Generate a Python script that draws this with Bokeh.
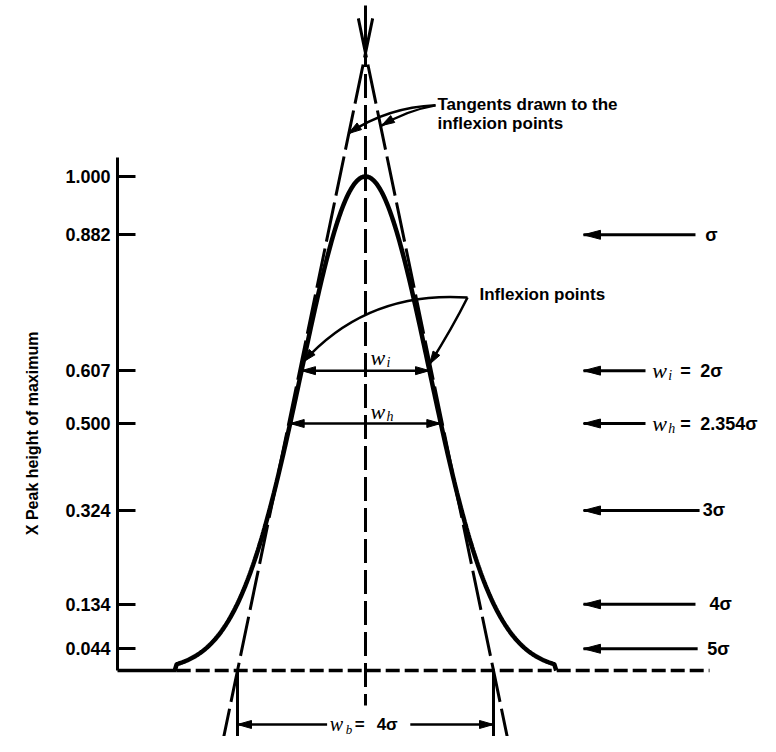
import numpy as np
from bokeh.plotting import figure
from bokeh.models import Range1d, FixedTicker, Label, LinearAxis
from bokeh.core.properties import value
from bokeh.embed import file_html
from bokeh.resources import INLINE

# ---------------- data ----------------
tick_heights = [1.000, 0.882, 0.607, 0.500, 0.324, 0.134, 0.044]
tick_labels = ["1.000", "0.882", "0.607", "0.500", "0.324", "0.134", "0.044"]
width_heights = [0.882, 0.607, 0.500, 0.324, 0.134, 0.044]
width_in_sigma = [1.0, 2.0, 2.354, 3.0, 4.0, 5.0]
width_sub = ["", "i", "h", "", "", ""]
width_text = ["σ", "2σ", "2.354σ", "3σ", "4σ", "5σ"]
inflexion_h = 0.607
half_h = 0.500
wi_sigma = 2.0
wh_sigma = 2.354
wb_sigma = 4.0
wb_text = "4σ"
tangent_apex_h = 1.25
foot_sigma = 2.95
axis_title = "X Peak height of maximum"
tangent_note = ["Tangents drawn to the", "inflexion points"]
inflexion_note = "Inflexion points"

# ---------------- layout ----------------
W, H = 760, 736
PX_SIGMA = 64.0
PX_UNIT = 494.0
BASE_PX = 670.0      # canvas y of the baseline
CENTER_PX = 365.0    # canvas x of the peak centre
X0 = -CENTER_PX / PX_SIGMA
X1 = X0 + W / PX_SIGMA
Y1 = BASE_PX / PX_UNIT
Y0 = Y1 - H / PX_UNIT
AXIS_X = -3.875

SANS = "Liberation Sans"
FONT = value(SANS)
SERIF = value("Liberation Serif")

p = figure(width=W, height=H, output_backend="svg", toolbar_location=None,
           x_range=Range1d(X0, X1), y_range=Range1d(Y0, Y1),
           x_axis_location=None, y_axis_location=None,
           min_border_left=0, min_border_right=0, min_border_top=0,
           min_border_bottom=0)
p.grid.visible = False
p.outline_line_color = None
p.background_fill_color = "white"

ax = LinearAxis(fixed_location=AXIS_X)
ax.ticker = FixedTicker(ticks=tick_heights)
ax.major_label_overrides = {h: t for h, t in zip(tick_heights, tick_labels)}
ax.bounds = (0, 1.038)
ax.axis_line_width = 3
ax.axis_line_color = "black"
ax.major_tick_in = 18
ax.major_tick_out = 0
ax.major_tick_line_width = 3
ax.minor_tick_line_color = None
ax.major_label_standoff = 7
ax.major_label_text_font = SANS
ax.major_label_text_font_style = "bold"
ax.major_label_text_font_size = "18px"
ax.major_label_text_color = "black"
p.add_layout(ax, "left")

p.add_layout(Label(x=-5.203, y=0.48, text=axis_title, angle=np.pi / 2,
                   text_align="center", text_baseline="middle",
                   text_font=SANS, text_font_style="bold",
                   text_font_size="16px", text_color="black"))

# ---------------- gaussian peak ----------------
xs = np.linspace(-foot_sigma, foot_sigma, 401)
ys = np.exp(-xs ** 2 / 2.0)
xs = np.concatenate([[-foot_sigma - 0.03], xs, [foot_sigma + 0.03]])
ys = np.concatenate([[0.0], ys, [0.0]])
p.line(xs, ys, line_color="black", line_width=4.5)

# baseline
p.line([AXIS_X, -foot_sigma], [0, 0], line_color="black", line_width=3.5)
p.line([-foot_sigma, 5.375], [0, 0], line_color="black", line_width=3.5,
       line_dash="14 5")

# centre line
p.line([0, 0], [1.346, 1.27], line_color="black", line_width=3)
p.line([0, 0], [1.27, -0.071], line_color="black", line_width=3,
       line_dash="24 7")

# tangents
base_x = wb_sigma / 2.0
th = np.array([1.32, -0.15])
for s in (-1, 1):
    tx = s * base_x * (1 - th / tangent_apex_h)
    p.line(tx, th, line_color="black", line_width=3, line_dash="40 7")

# ---------------- arrows ----------------
XS = PX_SIGMA
YS = PX_UNIT
head_xs, head_ys = [], []


def head(tx, ty, ux, uy, L=14.0, Wd=4.0):
    n = np.hypot(ux, uy)
    ux, uy = ux / n, uy / n
    bx, by = -ux * L, -uy * L
    nx, ny = -uy, ux
    pxs = [0.0, bx + nx * Wd, bx - nx * Wd]
    pys = [0.0, by + ny * Wd, by - ny * Wd]
    head_xs.append([tx + a / XS for a in pxs])
    head_ys.append([ty + b / YS for b in pys])


def harrow(xa, xb, y, L=14.0, Wd=4.0, lw=2.5):
    p.line([xa, xb], [y, y], line_color="black", line_width=lw)
    head(xa, y, -1 if xa < xb else 1, 0, L, Wd)
    head(xb, y, 1 if xb > xa else -1, 0, L, Wd)


def wtext(x, y, sub, rest=None, xo=0, yo=0, wsz="22px", ssz="14px",
          rsz="18px", eq_dx=28, val_dx=48):
    p.text([x], [y], text=["w"], text_font=SERIF, text_font_style="italic",
           text_font_size=wsz, text_align="left", text_baseline="middle",
           x_offset=xo, y_offset=yo, text_color="black")
    p.text([x], [y], text=[sub], text_font=SERIF, text_font_style="italic",
           text_font_size=ssz, text_align="left", text_baseline="middle",
           x_offset=xo + 16, y_offset=yo + 5, text_color="black")
    if rest:
        p.text([x], [y], text=["="], text_font=FONT, text_font_style="bold",
               text_font_size=rsz, text_align="left", text_baseline="middle",
               x_offset=xo + eq_dx, y_offset=yo, text_color="black")
        p.text([x], [y], text=[rest], text_font=FONT, text_font_style="bold",
               text_font_size=rsz, text_align="left", text_baseline="middle",
               x_offset=xo + val_dx, y_offset=yo, text_color="black")


# w_i and w_h double arrows
harrow(-wi_sigma / 2, wi_sigma / 2, inflexion_h)
harrow(-wh_sigma / 2, wh_sigma / 2, half_h)
wtext(0.078, inflexion_h, "i", yo=-13)
wtext(0.078, half_h, "h", yo=-12)

# w_b
wb_y = -0.1093
p.line([-base_x, -base_x], [0, -0.15], line_color="black", line_width=3)
p.line([base_x, base_x], [0, -0.15], line_color="black", line_width=3)
p.line([-base_x, -0.6], [wb_y, wb_y], line_color="black", line_width=2.5)
p.line([0.7, base_x], [wb_y, wb_y], line_color="black", line_width=2.5)
head(-base_x, wb_y, -1, 0)
head(base_x, wb_y, 1, 0)
wtext(-0.56, wb_y, "b", wb_text, wsz="20px", ssz="13px", rsz="17px",
      eq_dx=25, val_dx=47)

# right hand arrows and labels
head_x = 3.406
tail_x = [5.156, 4.375, 4.375, 5.22, 5.156, 5.19]
label_x = [5.31, 4.48, 4.48, 5.27, 5.375, 5.34]
for i, h in enumerate(width_heights):
    p.line([head_x, tail_x[i]], [h, h], line_color="black", line_width=3)
    head(head_x, h, -1, 0, L=17, Wd=4.5)
    if width_sub[i]:
        wtext(label_x[i], h, width_sub[i], width_text[i])
    else:
        p.text([label_x[i]], [h], text=[width_text[i]], text_font=FONT,
               text_font_style="bold", text_font_size="18px",
               text_align="left", text_baseline="middle", text_color="black")

# ---------------- curved annotation arrows ----------------
def curved(x0, y0, cx, cy, x1, y1, L=13.0, Wd=4.0):
    p.quadratic(x0=[x0], y0=[y0], cx=[cx], cy=[cy], x1=[x1], y1=[y1],
                line_color="black", line_width=2.5)
    head(x1, y1, (x1 - cx) * XS, (y1 - cy) * YS, L, Wd)


# inflexion points
ip_x, ip_y = 1.594, 0.755
curved(ip_x, ip_y, 0.03, 0.769, -0.97, 0.625)
curved(ip_x, ip_y, 1.36, 0.694, 1.0, 0.62)
p.text([1.781], [0.761], text=[inflexion_note], text_font=FONT,
       text_font_style="bold", text_font_size="17px", text_align="left",
       text_baseline="middle", text_color="black")

# tangents note
tn_x, tn_y = 1.094, 1.144
curved(tn_x, tn_y, 0.344, 1.140, -0.266, 1.087)
curved(tn_x, tn_y, 0.656, 1.134, 0.25, 1.103)
p.text([1.125, 1.125], [1.146, 1.107], text=tangent_note, text_font=FONT,
       text_font_style="bold", text_font_size="17px", text_align="left",
       text_baseline="middle", text_color="black")

p.patches(head_xs, head_ys, fill_color="black", line_color="black",
          line_width=1)

open("out.html", "w").write(file_html(p, INLINE))
